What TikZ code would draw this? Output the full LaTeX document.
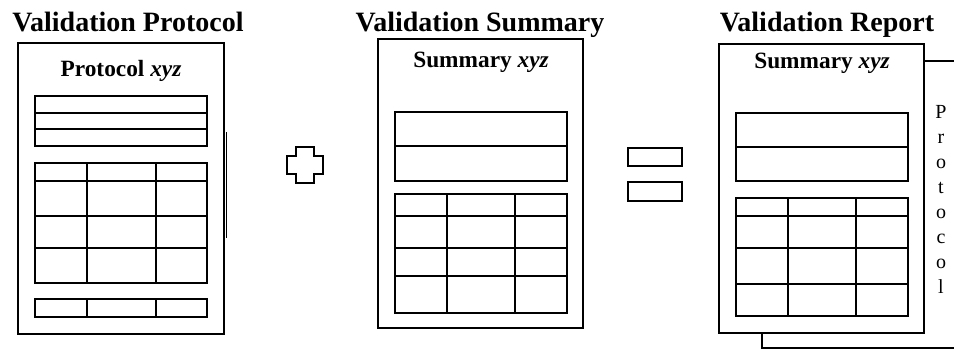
\documentclass[tikz,border=0pt]{standalone}
\usepackage{fontspec}
\setmainfont{Liberation Serif}
\begin{document}
\begin{tikzpicture}[x=0.75pt,y=-0.75pt,
  page/.style={draw,line width=1pt},
  tbl/.style={draw,line width=1.4pt},
  title/.style={font=\fontsize{21}{24}\selectfont\bfseries,anchor=base,inner sep=0pt},
  subt/.style={font=\fontsize{17.5}{20}\selectfont\bfseries,anchor=base,inner sep=0pt},
  vlet/.style={font=\fontsize{15}{18}\selectfont,anchor=base,inner sep=0pt},
  sym/.style={draw,line width=1.4pt}]
\useasboundingbox (0,0) rectangle (954,351);

% ---------- Validation Protocol ----------
\node[title] (t1) at (128,31) {Validation Protocol};
\draw[page] (18,43) rectangle (224,334);
\coordinate (p1) at (18,43);
\node[subt] (s1) at (121,76) {Protocol \textit{xyz}};
\draw[tbl] (35,96) rectangle (207,146);
\draw[tbl] (35,113) -- (207,113) (35,129) -- (207,129);
\draw[tbl] (35,163) rectangle (207,283);
\draw[tbl] (35,181) -- (207,181) (35,216) -- (207,216) (35,248) -- (207,248);
\draw[tbl] (87,163) -- (87,283) (156,163) -- (156,283);
\draw[tbl] (35,299) rectangle (207,317);
\draw[tbl] (87,299) -- (87,317) (156,299) -- (156,317);
\draw[line width=0.6pt] (226,132) -- (226,238);

% ---------- plus ----------
\draw[sym] (296,147) -- (314,147) -- (314,156) -- (323,156) -- (323,174) -- (314,174)
  -- (314,183) -- (296,183) -- (296,174) -- (287,174) -- (287,156) -- (296,156) -- cycle;

% ---------- Validation Summary ----------
\node[title] (t2) at (480,31) {Validation Summary};
\draw[page] (378,39) rectangle (583,328);
\node[subt] (s2) at (481,67) {Summary \textit{xyz}};
\draw[tbl] (395,112) rectangle (567,181);
\draw[tbl] (395,146) -- (567,146);
\draw[tbl] (395,194) rectangle (567,313);
\draw[tbl] (395,216) -- (567,216) (395,248) -- (567,248) (395,276) -- (567,276);
\draw[tbl] (447,194) -- (447,313) (515,194) -- (515,313);

% ---------- equals ----------
\draw[sym] (628,148) rectangle (682,166);
\draw[sym] (628,182) rectangle (682,201);

% ---------- Validation Report ----------
\node[title] (t3) at (827,31) {Validation Report};
\draw[page] (924,61) -- (954,61);
\draw[page] (762,333) -- (762,348) -- (954,348);
\draw[page] (719,44) rectangle (924,333);
\node[subt] (s3) at (822,68) {Summary \textit{xyz}};
\draw[tbl] (736,113) rectangle (908,181);
\draw[tbl] (736,147) -- (908,147);
\draw[tbl] (736,198) rectangle (908,316);
\draw[tbl] (736,216) -- (908,216) (736,248) -- (908,248) (736,284) -- (908,284);
\draw[tbl] (788,198) -- (788,316) (856,198) -- (856,316);
\foreach \c [count=\i from 0] in {P,r,o,t,o,c,o,l}
  \node[vlet] (v\i) at (941,118+25*\i) {\c};
\end{tikzpicture}
\end{document}
